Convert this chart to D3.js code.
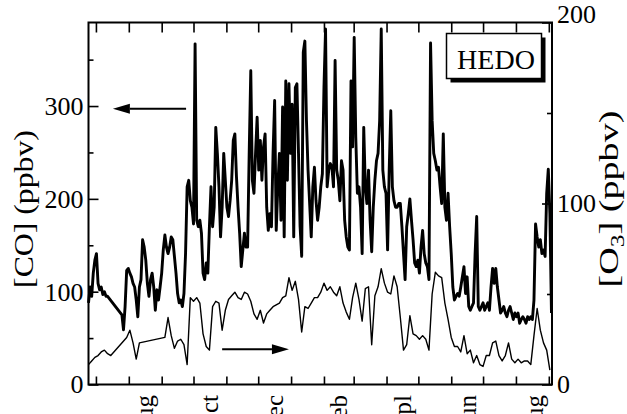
<!DOCTYPE html>
<html>
<head>
<meta charset="utf-8">
<script src="https://cdn.jsdelivr.net/npm/d3@7"></script>
<style>
  html, body { margin: 0; padding: 0; background: #fff; }
  svg { display: block; font-family: "Liberation Serif", "Times New Roman", serif; }
</style>
</head>
<body>
<div id="chart"></div>
<script>
// values; null = no data (the line is drawn straight across)
const startDate = new Date(Date.UTC(1998, 5, 24));
const coStepDays = 1.5;
const o3StepDays = 3;

const coValues = [
  88, 105, 95, 120, 134, 141, 109, 102, 105, 97,
  100, 95, 95, null, null, null, null, null, null, null,
  null, 75, 59, 84, 123, 125, 120, 116, 109, 105,
  91, 73, 105, 113, 156, 148, 134, 109, 95, 113,
  120, 105, 80, 102, 91, 105, 120, 145, 161, 148,
  141, 148, 159, 156, 138, 120, 98, 88, 91, 84,
  98, 141, 213, 220, 198, 191, 173, 367, 177, 170,
  177, 163, 120, 113, 131, 120, 170, 213, 170, 191,
  277, 249, 213, 159, 191, 249, 220, 191, 181, 198,
  220, 263, 270, 224, 191, 163, 127, 145, 163, 148,
  148, 249, 338, 220, 206, 249, 288, 231, 263, 220,
  256, 270, 191, 166, 184, 170, 249, 306, 166, 213,
  249, 177, 299, 159, 327, 220, 324, 249, 302, 159,
  320, 324, 249, 170, 138, 358, 370, 284, 231, 195,
  159, 213, 234, 198, 177, 191, 213, 227, 320, 383,
  213, 231, 238, 234, 213, 349, 231, 220, 198, 241,
  231, 177, 159, 148, 145, 327, 256, 374, 266, 206,
  213, 191, 141, 277, 213, 195, 231, 177, 143, 191,
  220, 241, 249, 284, 383, 231, 213, 206, 145, 231,
  295, 213, 198, 191, 191, 195, 195, 170, 141, 113,
  170, 184, 200, 177, 156, 131, 127, 134, 120, 148,
  166, 141, 131, 127, 113, 368, 284, 249, 241, 231,
  234, 213, 195, 270, 191, 177, 206, 170, 141, 105,
  91, 95, 98, 95, 105, 116, 127, 98, 116, 84,
  80, 84, 88, 141, 181, 84, 80, 84, 88, 80,
  84, 88, 80, 105, 125, 109, 125, 105, 91, 77,
  80, 84, 77, 73, 80, 84, 77, 70, 77, 73,
  77, 66, 70, 73, 70, 66, 73, 70, 73, 70,
  91, 173, 159, 148, 156, 141, 145, 138, 206, 232,
  184, 77
];

const o3Values = [
  11, 13, 15, 16, 18, 19, 17, 16, null, null,
  null, null, 26, 30, 23, 14, 23, null, null, null,
  null, null, null, null, 26, 37, 27, 20, 24, 25,
  22, 11, 48, 46, 48, 45, 28, 21, 19, 43,
  46, 45, 30, 41, 47, 49, 51, 48, 47, 51,
  50, 46, 39, 36, 41, 34, 39, 41, 43, 44,
  45, 48, 49, 59, 52, 57, 47, 29, 43, 42,
  45, 48, 48, 51, 56, 52, 54, 51, 49, 54,
  45, 40, 36, 48, 56, 47, 35, 53, 54, 22,
  49, 54, 64, 56, 51, 50, 60, 54, 37, 19,
  22, 38, 28, 27, 25, 27, 25, 19, 50, 62,
  60, 59, 45, 36, 26, 21, 21, 18, 27, 17,
  19, 12, 16, 11, 10, 16, 16, 23, 24, 16,
  13, 16, 23, 14, 12, 14, 12, 13, 13, 11,
  27, 42, 30, 23, 19, 8
];

const coTicks = [0, 100, 200, 300];
const coMinorTicks = [50, 150, 250, 350];
const o3Ticks = [0, 100, 200];
const o3MinorTicks = [50, 150];
const monthLabels = ["Aug", "Oct", "Dec", "Feb", "Apl", "Jun", "Aug"];
const monthLabelDates = ["1998-08-16", "1998-10-16", "1998-12-16", "1999-02-14", "1999-04-16", "1999-06-16", "1999-08-18"];
const stationName = "HEDO";

const width = 627;
const height = 414;
const plot = { left: 88.5, right: 552, top: 22.5, bottom: 384.5 };

const svg = d3.select("#chart")
  .append("svg")
  .attr("width", width)
  .attr("height", height)
  .attr("viewBox", `0 0 ${width} ${height}`);

svg.append("rect").attr("width", width).attr("height", height).attr("fill", "#fff");

const x = d3.scaleUtc()
  .domain([new Date(Date.UTC(1998, 5, 24)), new Date(Date.UTC(1999, 8, 4))])
  .range([plot.left, plot.right]);
const yCO = d3.scaleLinear().domain([0, 390]).range([plot.bottom, plot.top]);
const yO3 = d3.scaleLinear().domain([0, 200]).range([plot.bottom, plot.top]);

const toPoints = (values, stepDays) =>
  values
    .map((v, i) => ({ date: d3.utcHour.offset(startDate, Math.round(i * stepDays * 24)), value: v }))
    .filter((d) => d.value != null);

const coPoints = toPoints(coValues, coStepDays);
const o3Points = toPoints(o3Values, o3StepDays);

// series
svg.append("path")
  .datum(o3Points)
  .attr("fill", "none")
  .attr("stroke", "#000")
  .attr("stroke-width", 1.4)
  .attr("stroke-linejoin", "round")
  .attr("d", d3.line().x((d) => x(d.date)).y((d) => yO3(d.value)));

svg.append("path")
  .datum(coPoints)
  .attr("fill", "none")
  .attr("stroke", "#000")
  .attr("stroke-width", 2.9)
  .attr("stroke-linejoin", "round")
  .attr("d", d3.line().x((d) => x(d.date)).y((d) => yCO(d.value)));

// axes (ticks point inward)
const months = d3.utcMonth.range(d3.utcMonth.ceil(x.domain()[0]), x.domain()[1]);

const tidy = (g) => {
  g.select(".domain").remove();
  g.selectAll(".tick line").attr("stroke", "#000").attr("stroke-width", 1.6);
};

svg.append("g")
  .attr("transform", `translate(0,${plot.bottom})`)
  .call(d3.axisBottom(x).tickValues(months).tickSize(-8).tickFormat(""))
  .call(tidy);

svg.append("g")
  .attr("transform", `translate(0,${plot.top})`)
  .call(d3.axisTop(x).tickValues(months).tickSize(-10).tickFormat(""))
  .call(tidy);

const labelStyle = (g) => {
  g.selectAll(".tick text")
    .attr("fill", "#000")
    .attr("font-size", 26)
    .attr("font-family", "Liberation Serif, Times New Roman, serif");
};

svg.append("g")
  .attr("transform", `translate(${plot.left},0)`)
  .call(d3.axisLeft(yCO).tickValues(coTicks).tickSize(-10).tickPadding(5))
  .call(tidy)
  .call(labelStyle);

svg.append("g")
  .attr("transform", `translate(${plot.left},0)`)
  .call(d3.axisLeft(yCO).tickValues(coMinorTicks).tickSize(-5).tickFormat(""))
  .call(tidy);

const rightAxis = svg.append("g")
  .attr("transform", `translate(${plot.right},0)`)
  .call(d3.axisRight(yO3).tickValues(o3Ticks).tickSize(-10).tickPadding(5))
  .call(tidy)
  .call(labelStyle);
rightAxis.selectAll(".tick text").filter((d) => d === 200).attr("dy", "0em");

svg.append("g")
  .attr("transform", `translate(${plot.right},0)`)
  .call(d3.axisRight(yO3).tickValues(o3MinorTicks).tickSize(-5).tickFormat(""))
  .call(tidy);

// frame
svg.append("rect")
  .attr("x", plot.left)
  .attr("y", plot.top)
  .attr("width", plot.right - plot.left)
  .attr("height", plot.bottom - plot.top)
  .attr("fill", "none")
  .attr("stroke", "#000")
  .attr("stroke-width", 2);

// month labels, rotated and cut by the bottom edge as in the scan
svg.append("g")
  .selectAll("text")
  .data(monthLabels)
  .join("text")
  .attr("transform", (d, i) => `translate(${x(new Date(monthLabelDates[i] + "T00:00:00Z"))},395) rotate(-90)`)
  .attr("text-anchor", "end")
  .attr("dy", "0.35em")
  .attr("font-size", 25)
  .text((d) => d);

// axis titles
const fitTitle = (sel, cx, cy, target) => {
  const len = sel.node().getComputedTextLength();
  sel.attr("transform", `translate(${cx},${cy}) rotate(-90) scale(${target / len},1)`);
};

const coTitle = svg.append("text")
  .attr("text-anchor", "middle")
  .attr("dy", "0.35em")
  .attr("font-size", 27)
  .text("[CO] (ppbv)");
fitTitle(coTitle, 24, 209, 158);

const o3Title = svg.append("text")
  .attr("text-anchor", "middle")
  .attr("dy", "0.3em")
  .attr("font-size", 27);
o3Title.append("tspan").text("[O");
o3Title.append("tspan").attr("font-size", 18).attr("dy", 6).text("3");
o3Title.append("tspan").attr("dy", -6).text("] (ppbv)");
fitTitle(o3Title, 610, 199, 177);

// arrows pointing to each series' axis
const arrow = (x1, x2, y) => {
  const dir = Math.sign(x2 - x1);
  const base = x2 - dir * 17;
  svg.append("line")
    .attr("x1", x1).attr("x2", base)
    .attr("y1", y).attr("y2", y)
    .attr("stroke", "#000").attr("stroke-width", 2);
  svg.append("path")
    .attr("d", `M${x2},${y}L${base},${y - 5}L${base},${y + 5}Z`)
    .attr("fill", "#000");
};
arrow(x(new Date(Date.UTC(1998, 8, 24))), x(new Date(Date.UTC(1998, 6, 17))), yCO(297));
arrow(x(new Date(Date.UTC(1998, 9, 28))), x(new Date(Date.UTC(1998, 11, 30))), yO3(19.5));

// station label box with drop shadow
const box = { x: 446.5, y: 33.5, w: 95, h: 45 };
svg.append("rect")
  .attr("x", box.x + 4).attr("y", box.y + 4)
  .attr("width", box.w).attr("height", box.h)
  .attr("fill", "#000");
svg.append("rect")
  .attr("x", box.x).attr("y", box.y)
  .attr("width", box.w).attr("height", box.h)
  .attr("fill", "#fff")
  .attr("stroke", "#000")
  .attr("stroke-width", 1.5);
svg.append("text")
  .attr("x", box.x + box.w / 2 + 2)
  .attr("y", box.y + 35)
  .attr("text-anchor", "middle")
  .attr("font-size", 28)
  .text(stationName);
</script>
</body>
</html>
